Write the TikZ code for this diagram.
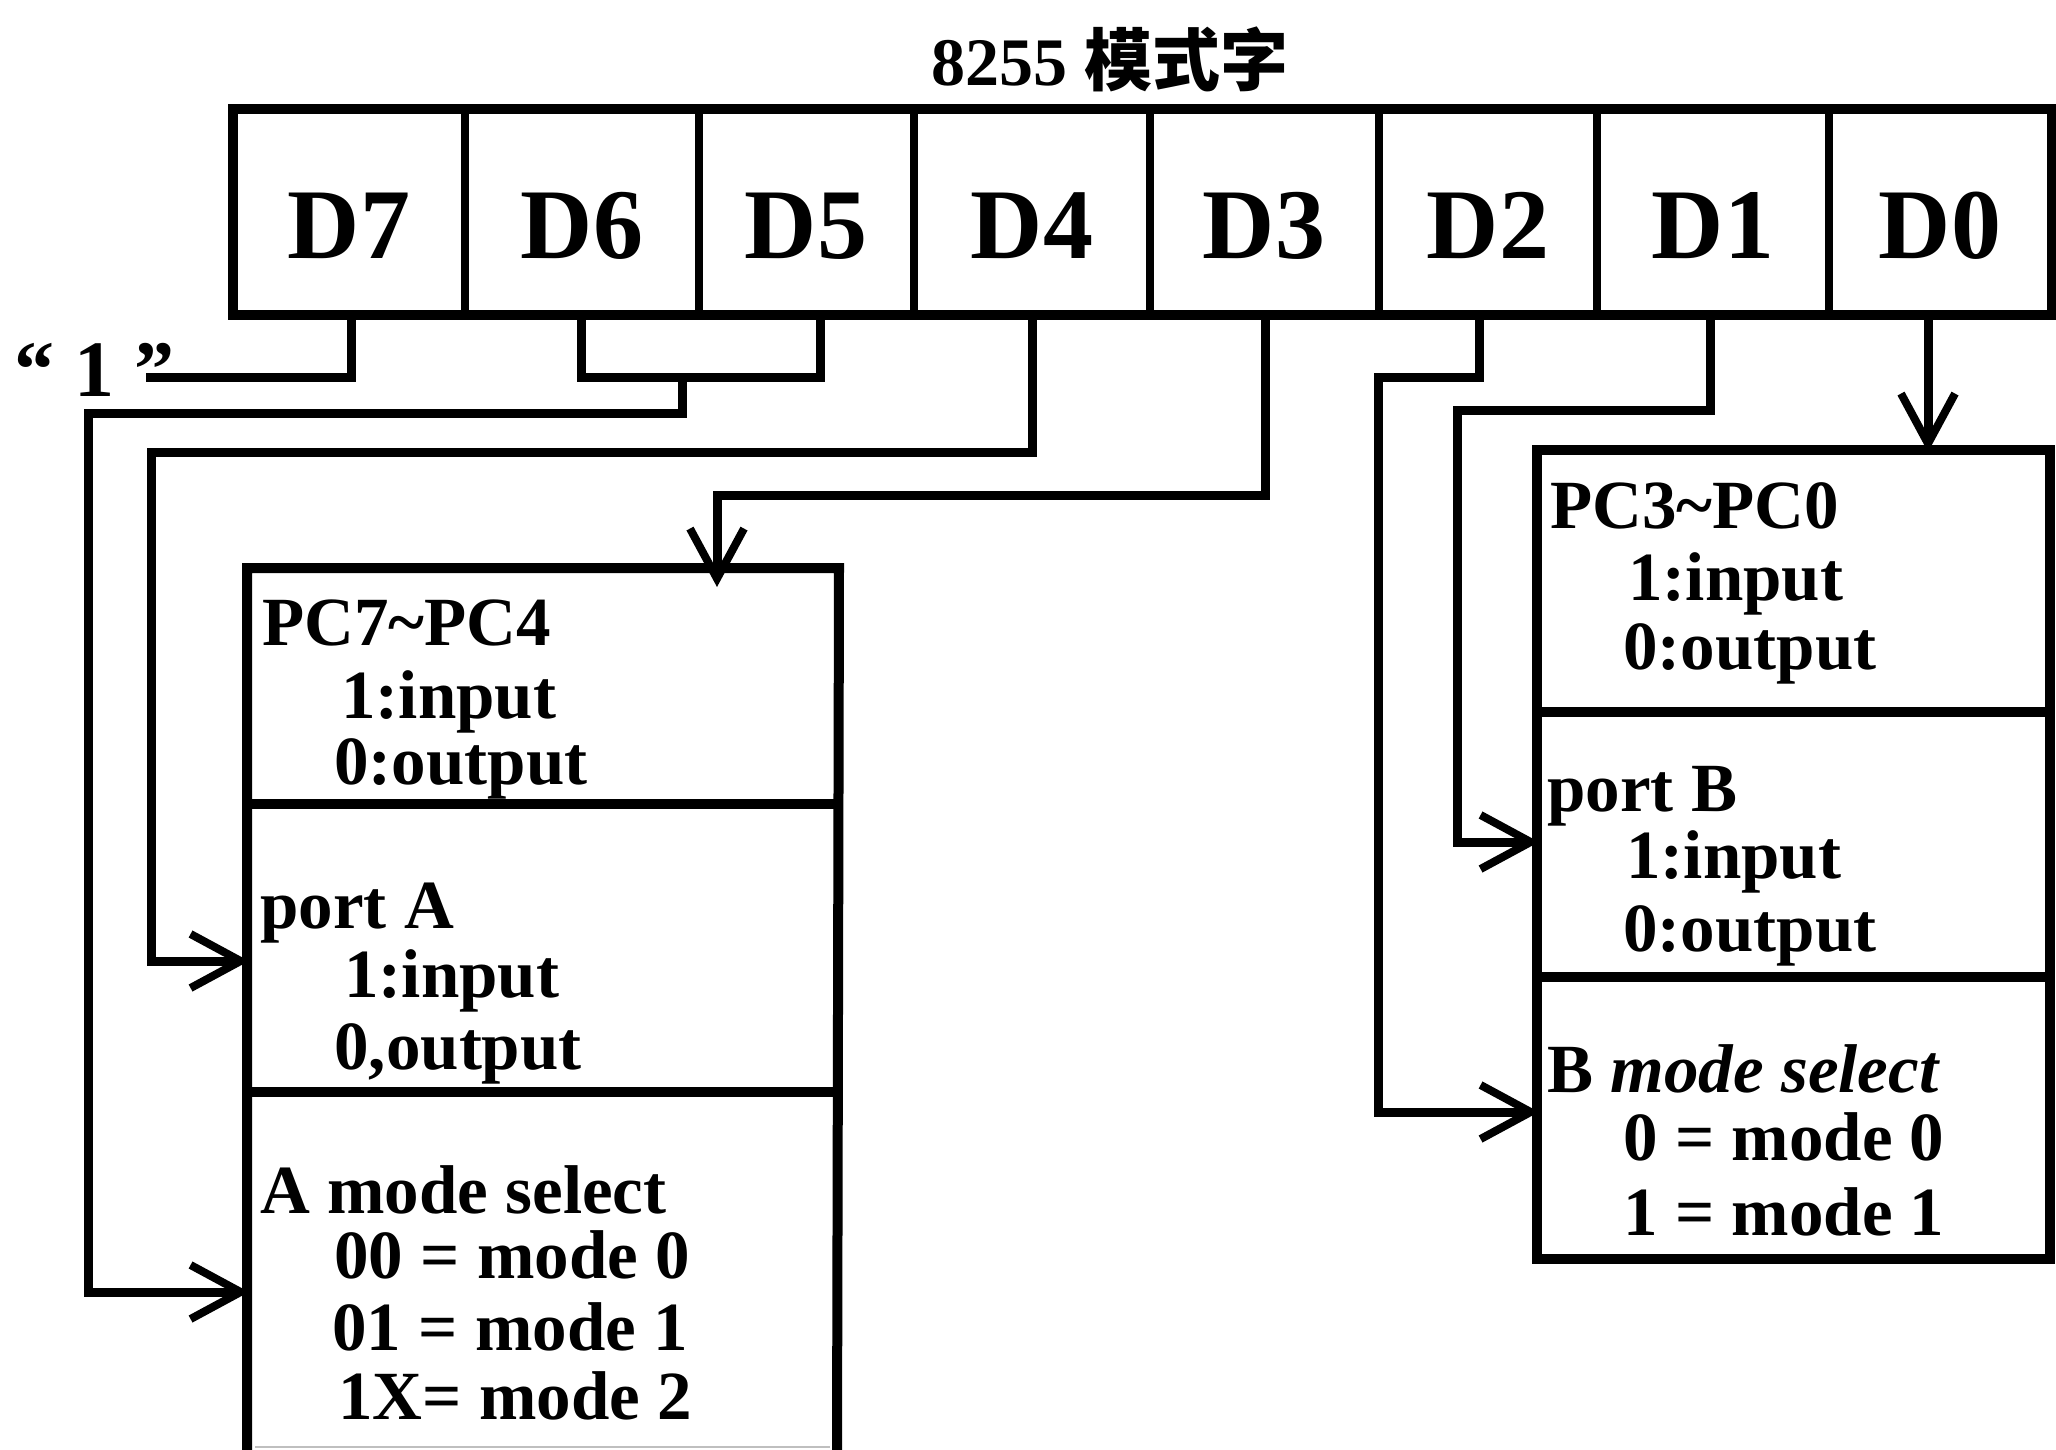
\documentclass[tikz,border=0pt]{standalone}
\usepackage{fontspec}
\setmainfont{Liberation Serif}
\newfontfamily\cjk{Noto Sans CJK SC}
\usetikzlibrary{arrows.meta}
\begin{document}
\begin{tikzpicture}[x=0.5pt,y=-0.5pt,
  frame/.style={line width=5pt, line join=miter},
  divider/.style={line width=4pt},
  conn/.style={line width=4.5pt, line cap=rect, line join=miter},
  arr/.style={line width=4.5pt, line join=miter, -{Straight Barb[length=25pt,width=27pt,line width=4pt]}},
  bitlbl/.style={font=\fontsize{50}{50}\selectfont\bfseries, anchor=base, inner sep=0pt},
  txt/.style={font=\fontsize{34.5}{34.5}\selectfont\bfseries, anchor=base west, inner sep=0pt},
]
\useasboundingbox (0,0) rectangle (2056,1450);
\fill[white] (0,0) rectangle (2056,1450);

% title
\node[font=\fontsize{34}{34}\selectfont\bfseries, anchor=base, inner sep=0pt] (title) at (1110,86) {8255 {\cjk 模式字}};

% register
\draw[frame] (233,109) rectangle (2052,315);
\foreach \x in {465,699,914,1150,1379,1597,1829} \draw[divider] (\x,109) -- (\x,315);
\node[bitlbl] (d7) at (349,258) {D7};
\node[bitlbl] (d6) at (582,258) {D6};
\node[bitlbl] (d5) at (806,258) {D5};
\node[bitlbl] (d4) at (1032,258) {D4};
\node[bitlbl] (d3) at (1264,258) {D3};
\node[bitlbl] (d2) at (1488,258) {D2};
\node[bitlbl] (d1) at (1713,258) {D1};
\node[bitlbl] (d0) at (1940,258) {D0};

% "1" label
\node[font=\fontsize{40}{40}\selectfont\bfseries, anchor=base west, inner sep=0pt] (one) at (14,396) {“~1~”};

% connector end points
\coordinate (p7) at (351,315);
\coordinate (p6) at (581,315);
\coordinate (p5) at (820,315);
\coordinate (p4) at (1032,315);
\coordinate (p3) at (1265,315);
\coordinate (p2) at (1479,315);
\coordinate (p1) at (1710,315);
\coordinate (p0) at (1928,315);
\coordinate (e7) at (150,377);
\coordinate (j65) at (682,377);
\coordinate (aTop) at (717,587);
\coordinate (aPort) at (249,961);
\coordinate (aMode) at (249,1292);
\coordinate (bTop) at (1928,452);
\coordinate (bPort) at (1539,842);
\coordinate (bMode) at (1539,1112);

% box A
\draw[frame] (247,1452) -- (247,568) -- (839,568) -- (837,1452);
\draw[frame] (247,804) -- (838,804);
\draw[frame] (247,1092) -- (837,1092);
\draw[gray!50, line width=1.2pt] (255,1447) -- (830,1447);

% box B
\draw[frame] (1537,450) rectangle (2050,1259);
\draw[frame] (1537,712) -- (2050,712);
\draw[frame] (1537,977) -- (2046,977);

% connectors
\draw[conn] (p7) |- (e7);
\draw[conn] (p6) |- (p5 |- j65) -- (p5);
\draw[arr] (j65) -- (682,413) -- (88,413) -- (88,1292) -- (aMode);
\draw[arr] (p4) -- (1032,452) -- (151,452) -- (151,961) -- (aPort);
\draw[arr] (p3) -- (1265,495) -- (717,495) -- (aTop);
\draw[arr] (p2) -- (1479,377) -- (1378,377) -- (1378,1112) -- (bMode);
\draw[arr] (p1) -- (1710,410) -- (1457,410) -- (1457,842) -- (bPort);
\draw[arr] (p0) -- (bTop);

% box A texts
\node[txt] (a11) at (262,645) {PC7\textasciitilde PC4};
\node[txt] (a12) at (341,718) {1:input};
\node[txt] (a13) at (334,784) {0:output};
\node[txt] (a21) at (260,928) {port A};
\node[txt] (a22) at (344,997) {1:input};
\node[txt] (a23) at (334,1069) {0,output};
\node[txt] (a31) at (260,1213) {A mode select};
\node[txt] (a32) at (334,1278) {00 = mode 0};
\node[txt] (a33) at (332,1350) {01 = mode 1};
\node[txt] (a34) at (338,1419) {1X= mode 2};

% box B texts
\node[txt] (b11) at (1550,528) {PC3\textasciitilde PC0};
\node[txt] (b12) at (1628,600) {1:input};
\node[txt] (b13) at (1623,669) {0:output};
\node[txt] (b21) at (1547,811) {port B};
\node[txt] (b22) at (1626,878) {1:input};
\node[txt] (b23) at (1623,951) {0:output};
\node[txt] (b31) at (1547,1092) {B \textit{mode select}};
\node[txt] (b32) at (1623,1160) {0 = mode 0};
\node[txt] (b33) at (1623,1235) {1 = mode 1};
\end{tikzpicture}
\end{document}
